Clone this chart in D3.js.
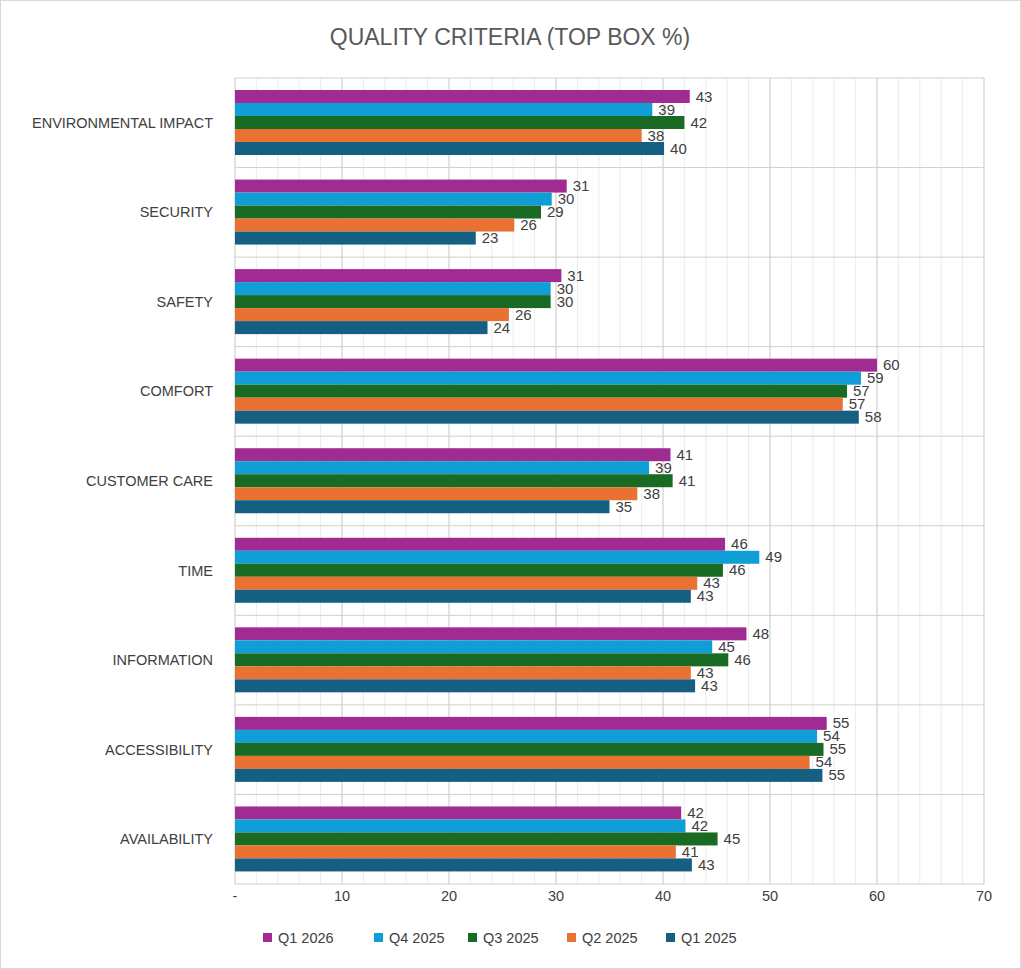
<!DOCTYPE html>
<html><head><meta charset="utf-8">
<script src="https://cdn.jsdelivr.net/npm/d3@7"></script>
<style>body{margin:0;background:#fff;font-family:"Liberation Sans",Arial,sans-serif}</style>
</head><body>
<script>
var categories = ["ENVIRONMENTAL IMPACT","SECURITY","SAFETY","COMFORT","CUSTOMER CARE","TIME","INFORMATION","ACCESSIBILITY","AVAILABILITY"]
var seriesNames = ["Q1 2026","Q4 2025","Q3 2025","Q2 2025","Q1 2025"]
var colors = ["#A02B93","#0F9ED5","#196B24","#E97132","#156082"]
var q1_2026 = [42.5,31.0,30.5,60.0,40.7,45.8,47.8,55.3,41.7]
var q4_2025 = [39.0,29.6,29.5,58.5,38.7,49.0,44.6,54.4,42.1]
var q3_2025 = [42.0,28.6,29.5,57.2,40.9,45.6,46.1,55.0,45.1]
var q2_2025 = [38.0,26.1,25.6,56.8,37.6,43.2,42.6,53.7,41.2]
var q1_2025 = [40.1,22.5,23.6,58.3,35.0,42.6,43.0,54.9,42.7]
var series = [q1_2026,q4_2025,q3_2025,q2_2025,q1_2025]
var xTicks = [0,10,20,30,40,50,60,70]

var W = 1021, H = 969
var pLeft = 235, pRight = 984, pTop = 78, pBottom = 884

var svg = d3.select("body").append("svg").attr("width", W).attr("height", H)
svg.append("rect").attr("x",0.5).attr("y",0.5).attr("width",W-1).attr("height",H-1)
  .attr("fill","#fff").attr("stroke","#d9d9d9")

svg.append("text").attr("x", 510).attr("y", 45).attr("text-anchor","middle")
  .attr("font-size",23).attr("fill","#595959").text("QUALITY CRITERIA (TOP BOX %)")

var x = d3.scaleLinear().domain([0,70]).range([pLeft,pRight])
var y = d3.scaleBand().domain(categories).range([pTop,pBottom])
var inner = d3.scaleBand().domain(seriesNames).range([0,65]).paddingInner(0)

// minor grid
svg.selectAll("line.minor").data(d3.range(0,71,2)).enter().append("line")
  .attr("x1",d=>x(d)).attr("x2",d=>x(d)).attr("y1",pTop).attr("y2",pBottom)
  .attr("stroke","#ececec")
// major grid
svg.selectAll("line.major").data(xTicks).enter().append("line")
  .attr("x1",d=>x(d)).attr("x2",d=>x(d)).attr("y1",pTop).attr("y2",pBottom)
  .attr("stroke","#d0d0d0")
// category separators
svg.selectAll("line.sep").data(d3.range(categories.length+1)).enter().append("line")
  .attr("x1",pLeft).attr("x2",pRight)
  .attr("y1",d=>pTop + d*y.bandwidth()).attr("y2",d=>pTop + d*y.bandwidth())
  .attr("stroke","#d0d0d0")

series.forEach(function(vals, si){
  var g = svg.append("g")
  g.selectAll("rect").data(vals).enter().append("rect")
    .attr("x", x(0))
    .attr("y", (d,i)=>y(categories[i]) + 12 + inner(seriesNames[si]))
    .attr("width", d=>x(d)-x(0))
    .attr("height", inner.bandwidth())
    .attr("fill", colors[si])
  g.selectAll("text").data(vals).enter().append("text")
    .attr("x", d=>x(d)+6)
    .attr("y", (d,i)=>y(categories[i]) + 12 + inner(seriesNames[si]) + inner.bandwidth()/2 + 5)
    .attr("font-size",15).attr("fill","#404040")
    .text(d=>Math.round(d))
})

svg.selectAll("text.cat").data(categories).enter().append("text")
  .attr("x",213).attr("y",d=>y(d)+y.bandwidth()/2 + 5)
  .attr("text-anchor","end").attr("font-size",14.5).attr("fill","#404040")
  .text(d=>d)

svg.selectAll("text.tick").data(xTicks).enter().append("text")
  .attr("x",d=>x(d)).attr("y",901).attr("text-anchor","middle")
  .attr("font-size",14.5).attr("fill","#404040")
  .text(d=>d===0?"-":d)

var leg = svg.append("g")
var lx = [263,374,468,567,666]
seriesNames.forEach(function(n,i){
  leg.append("rect").attr("x",lx[i]).attr("y",933).attr("width",9).attr("height",9).attr("fill",colors[i])
  leg.append("text").attr("x",lx[i]+15).attr("y",943).attr("font-size",14.5).attr("fill","#404040").text(n)
})
</script>
</body></html>
